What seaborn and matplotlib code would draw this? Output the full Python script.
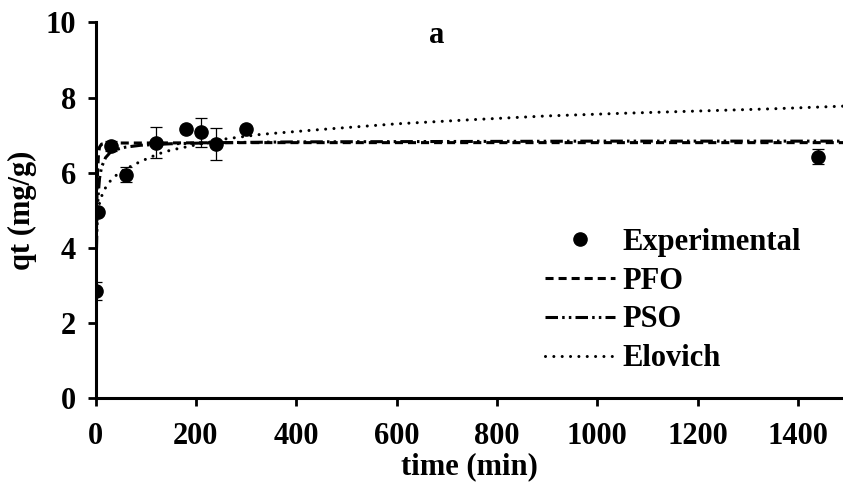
import matplotlib
matplotlib.use("Agg")
import matplotlib.pyplot as plt
from matplotlib.lines import Line2D
import seaborn as sns
import pandas as pd

# experimental points (time in min, qt in mg/g, error bar half-height)
time_exp = [1, 5, 30, 60, 120, 180, 210, 240, 300, 1440]
qt_exp = [2.86, 4.96, 6.71, 5.94, 6.80, 7.15, 7.07, 6.76, 7.15, 6.43]
qt_err = [0.24, 0.05, 0.14, 0.20, 0.42, 0.05, 0.39, 0.42, 0.05, 0.20]

# model curves
time_pfo = [0, 1, 2, 3, 4, 6, 8, 12, 20, 40, 100, 300, 700, 1100, 1490]
qt_pfo = [0, 2.9, 4.5, 5.5, 6.0, 6.5, 6.68, 6.76, 6.78, 6.79, 6.79, 6.80, 6.80, 6.80, 6.80]

time_pso = [0, 1, 2, 3, 5, 8, 12, 20, 30, 45, 60, 90, 150, 250, 400, 700, 1000, 1490]
qt_pso = [0, 2.86, 4.0, 4.6, 5.35, 5.85, 6.15, 6.4, 6.55, 6.63, 6.68, 6.73, 6.77, 6.80,
          6.82, 6.83, 6.84, 6.84]

time_elo = [1, 2, 5, 9, 15, 25, 45, 60, 90, 125, 150, 200, 260, 330, 450, 600, 750,
            900, 1050, 1200, 1350, 1490]
qt_elo = [4.3, 4.6, 5.0, 5.25, 5.48, 5.72, 5.98, 6.1, 6.3, 6.5, 6.6, 6.74, 6.9, 7.02,
          7.15, 7.3, 7.41, 7.51, 7.58, 7.64, 7.70, 7.77]

sns.set_theme(style="white")
plt.rcParams["font.family"] = ["Liberation Serif", "DejaVu Serif"]
plt.rcParams["font.weight"] = "bold"
plt.rcParams["axes.labelweight"] = "bold"
plt.rcParams["lines.scale_dashes"] = False
for k in ["text.color", "axes.labelcolor", "xtick.color", "ytick.color", "axes.edgecolor"]:
    plt.rcParams[k] = "black"

fs = 22
fig = plt.figure(figsize=(8.43, 4.96), dpi=100)
ax = fig.add_axes([0.1133, 0.197, 0.8867, 0.758])

lw = 2.2
pfo_dash = (5.8, 3.6)
pso_dash = (9.0, 3.0, 1.8, 3.0, 1.8, 3.0)
elo_dash = (0.01, 6.0)

df_pfo = pd.DataFrame({"t": time_pfo, "q": qt_pfo})
df_pso = pd.DataFrame({"t": time_pso, "q": qt_pso})
df_elo = pd.DataFrame({"t": time_elo, "q": qt_elo})

sns.lineplot(data=df_pfo, x="t", y="q", ax=ax, color="black", lw=lw)
ax.lines[-1].set_dashes(pfo_dash)
sns.lineplot(data=df_pso, x="t", y="q", ax=ax, color="black", lw=lw)
ax.lines[-1].set_dashes(pso_dash)
sns.lineplot(data=df_elo, x="t", y="q", ax=ax, color="black", lw=lw)
ax.lines[-1].set_dashes(elo_dash)
ax.lines[-1].set_dash_capstyle("round")

ax.errorbar(time_exp, qt_exp, yerr=qt_err, fmt="o", color="black", ms=9.5,
            elinewidth=0.9, capsize=4, capthick=0.9, zorder=5)

ax.set_xlim(0, 1490)
ax.set_ylim(0, 10)
ax.set_xticks(range(0, 1401, 200))
ax.set_yticks(range(0, 11, 2))
ax.set_xlabel("time (min)", fontsize=fs, labelpad=1)
ax.set_ylabel("qt (mg/g)", fontsize=fs, labelpad=6)
ax.tick_params(axis="both", labelsize=fs, direction="out", length=6, width=2,
               color="black", labelcolor="black", bottom=True, left=True)
ax.tick_params(axis="x", pad=11)
ax.tick_params(axis="y", pad=8)
sns.despine(ax=ax)
for s in ["left", "bottom"]:
    ax.spines[s].set_linewidth(2.2)
    ax.spines[s].set_color("black")
for lab in ax.get_xticklabels() + ax.get_yticklabels():
    lab.set_fontweight("bold")

ax.text(0.457, 0.945, "a", transform=ax.transAxes, fontsize=fs, ha="center",
        va="baseline", fontweight="bold")

h_exp = Line2D([], [], marker="o", ms=9.5, color="black", ls="none")
h_pfo = Line2D([], [], color="black", lw=lw, dashes=pfo_dash)
h_pso = Line2D([], [], color="black", lw=lw, dashes=pso_dash)
h_elo = Line2D([], [], color="black", lw=lw, dashes=elo_dash, dash_capstyle="round")
ax.legend([h_exp, h_pfo, h_pso, h_elo], ["Experimental", "PFO", "PSO", "Elovich"],
          loc="center left", bbox_to_anchor=(0.6465, 0.394),
          bbox_transform=fig.transFigure, frameon=False, fontsize=fs,
          handlelength=2.3, handletextpad=0.23, labelspacing=0.32,
          borderpad=0, borderaxespad=0)

fig.savefig("out.png", dpi=100)
